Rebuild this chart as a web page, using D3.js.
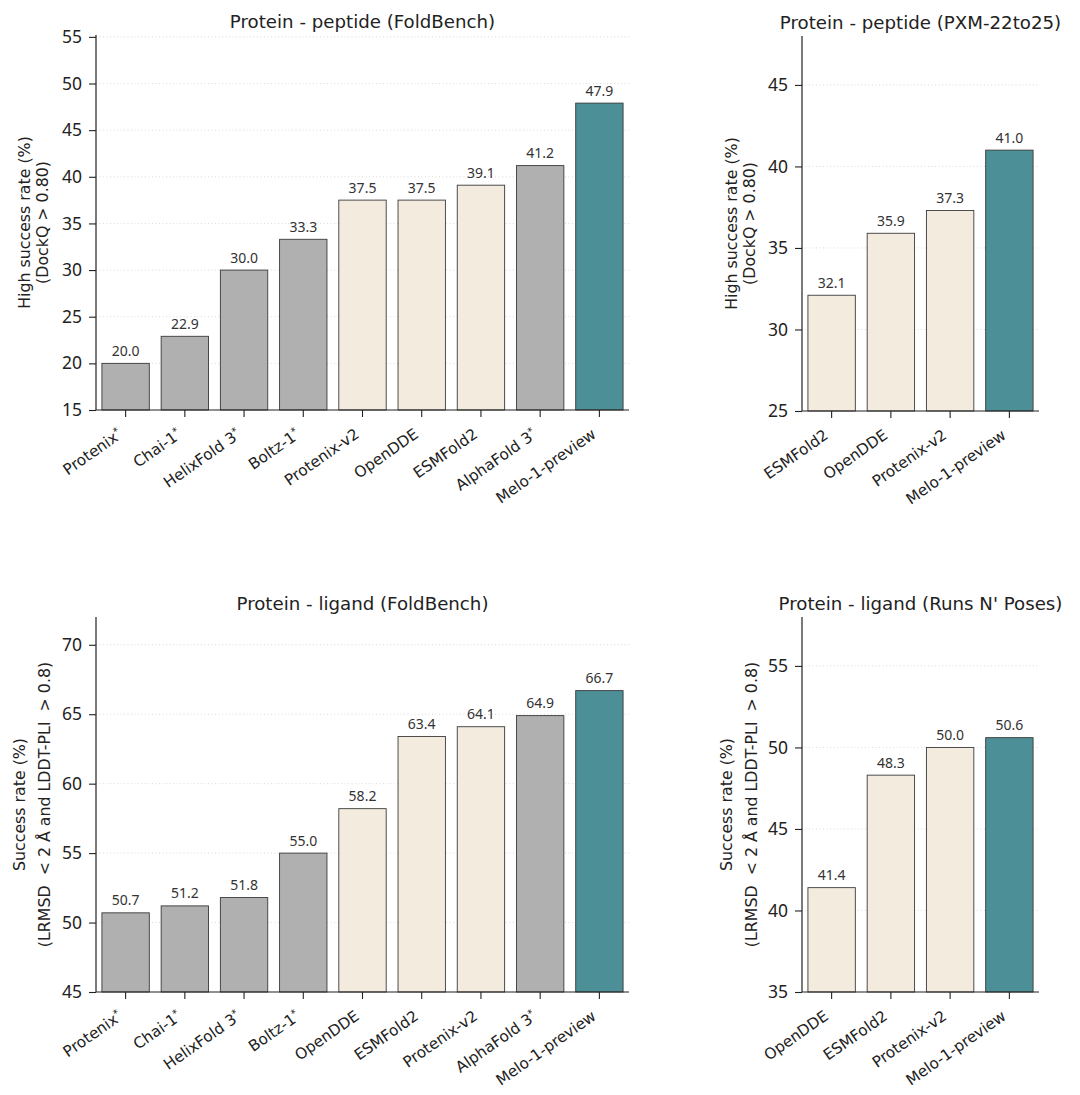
<!DOCTYPE html>
<html><head><meta charset="utf-8">
<script src="https://cdn.jsdelivr.net/npm/d3@7"></script>
<style>
body{margin:0;background:#fff;}
svg{display:block;font-family:"DejaVu Sans",sans-serif;}
.num{font-family:"Noto Sans","DejaVu Sans",sans-serif;}
</style></head>
<body><svg id="c" width="1080" height="1095"></svg>
<script>
// ---- data ----
const fbPeptideModels = ["Protenix*","Chai-1*","HelixFold 3*","Boltz-1*","Protenix-v2","OpenDDE","ESMFold2","AlphaFold 3*","Melo-1-preview"];
const fbPeptideValues = [20.0,22.9,30.0,33.3,37.5,37.5,39.1,41.2,47.9];
const fbPeptideGroups = ["base","base","base","base","open","open","open","base","melo"];

const pxmModels = ["ESMFold2","OpenDDE","Protenix-v2","Melo-1-preview"];
const pxmValues = [32.1,35.9,37.3,41.0];
const pxmGroups = ["open","open","open","melo"];

const fbLigandModels = ["Protenix*","Chai-1*","HelixFold 3*","Boltz-1*","OpenDDE","ESMFold2","Protenix-v2","AlphaFold 3*","Melo-1-preview"];
const fbLigandValues = [50.7,51.2,51.8,55.0,58.2,63.4,64.1,64.9,66.7];
const fbLigandGroups = ["base","base","base","base","open","open","open","base","melo"];

const rnpModels = ["OpenDDE","ESMFold2","Protenix-v2","Melo-1-preview"];
const rnpValues = [41.4,48.3,50.0,50.6];
const rnpGroups = ["open","open","open","melo"];

const ticksFbPeptide = [15,20,25,30,35,40,45,50,55];
const ticksPxm = [25,30,35,40,45];
const ticksFbLigand = [45,50,55,60,65,70];
const ticksRnp = [35,40,45,50,55];

const colors = {base:"#b0b0b0", open:"#f3ecde", melo:"#4d8f96"};

const panels = [
  {title:"Protein - peptide (FoldBench)", models:fbPeptideModels, values:fbPeptideValues, groups:fbPeptideGroups,
   ticks:ticksFbPeptide, domain:[15,55.2], x0:96, x1:629, yT:35, yB:410,
   ylab:["High success rate (%)","(DockQ > 0.80)"], ylx:[25,43]},
  {title:"Protein - peptide (PXM-22to25)", models:pxmModels, values:pxmValues, groups:pxmGroups,
   ticks:ticksPxm, domain:[25,48], x0:802, x1:1039, yT:36, yB:411,
   ylab:["High success rate (%)","(DockQ > 0.80)"], ylx:[732,750]},
  {title:"Protein - ligand (FoldBench)", models:fbLigandModels, values:fbLigandValues, groups:fbLigandGroups,
   ticks:ticksFbLigand, domain:[45,72], x0:96, x1:629, yT:617, yB:992,
   ylab:["Success rate (%)","(LRMSD  < 2 Å and LDDT-PLI  > 0.8)"], ylx:[20,45]},
  {title:"Protein - ligand (Runs N' Poses)", models:rnpModels, values:rnpValues, groups:rnpGroups,
   ticks:ticksRnp, domain:[35,58], x0:802, x1:1039, yT:617, yB:992,
   ylab:["Success rate (%)","(LRMSD  < 2 Å and LDDT-PLI  > 0.8)"], ylx:[727,752]}
];

const svg = d3.select("#c");
const ROT = -35;
const TICK = 7;

panels.forEach(p => {
  const g = svg.append("g");
  const x = d3.scaleBand().domain(p.models).range([p.x0, p.x1]).paddingInner(0.2).paddingOuter(0.1);
  const y = d3.scaleLinear().domain(p.domain).range([p.yB, p.yT]);

  // grid
  g.selectAll("line.grid").data(p.ticks.filter(t => t !== p.domain[0])).join("line")
    .attr("x1", p.x0).attr("x2", p.x1)
    .attr("y1", d => y(d)).attr("y2", d => y(d))
    .attr("stroke", "#d0d0d0").attr("stroke-width", 0.8).attr("stroke-dasharray", "1,2.5");

  // bars
  const data = p.models.map((m, i) => ({m, v: p.values[i], grp: p.groups[i]}));
  g.selectAll("rect").data(data).join("rect")
    .attr("x", d => x(d.m)).attr("width", x.bandwidth())
    .attr("y", d => y(d.v)).attr("height", d => y(p.domain[0]) - y(d.v))
    .attr("fill", d => colors[d.grp]).attr("stroke", "#3a3a3a").attr("stroke-width", 0.9);

  // value labels
  g.selectAll("text.val").data(data).join("text").attr("class", "num")
    .attr("x", d => x(d.m) + x.bandwidth()/2).attr("y", d => y(d.v) - 7.5)
    .attr("text-anchor", "middle").attr("font-size", 14).attr("fill", "#333")
    .text(d => d.v.toFixed(1));

  // y axis
  const ya = g.append("g").attr("transform", `translate(${p.x0},0)`)
    .call(d3.axisLeft(y).tickValues(p.ticks).tickSize(TICK).tickPadding(7).tickFormat(d3.format("d")));
  ya.select(".domain").attr("d", `M0,${p.yT}V${p.yB}`).attr("stroke", "#222").attr("stroke-width", 1.2);
  ya.selectAll(".tick line").attr("stroke", "#222").attr("stroke-width", 1.1);
  ya.selectAll(".tick text").attr("class", "num").attr("font-size", 17.5).attr("fill", "#222").attr("font-family", null);

  // x axis
  const xa = g.append("g").attr("transform", `translate(0,${p.yB})`)
    .call(d3.axisBottom(x).tickSize(TICK).tickSizeOuter(0).tickFormat(""));
  xa.select(".domain").attr("d", `M${p.x0},0H${p.x1}`).attr("stroke", "#222").attr("stroke-width", 1.2);
  xa.selectAll(".tick line").attr("stroke", "#222").attr("stroke-width", 1.1);
  xa.selectAll(".tick text").remove();

  // rotated x labels, aligned like matplotlib (bbox right at tick, bbox top below tick)
  const svgBB = svg.node().getBoundingClientRect();
  p.models.forEach(m => {
    const cx = x(m) + x.bandwidth()/2;
    const star = m.endsWith("*");
    const base = star ? m.slice(0, -1) : m;
    const t = g.append("text").attr("font-size", 15.3).attr("fill", "#222")
      .attr("text-anchor", "end").attr("transform", `rotate(${ROT})`);
    t.append("tspan").text(base);
    if (star) t.append("tspan").attr("font-size", 10).attr("dy", "-0.55em").text("*");
    const bb = t.node().getBoundingClientRect();
    const right = bb.right - svgBB.left, top = bb.top - svgBB.top;
    const tx = cx - right, ty = (p.yB + TICK + 8) - top;
    t.attr("transform", `translate(${tx},${ty}) rotate(${ROT})`);
  });

  // title
  g.append("text").attr("x", (p.x0 + p.x1)/2).attr("y", p.yT - 7.5)
    .attr("text-anchor", "middle").attr("font-size", 18.2).attr("fill", "#222")
    .text(p.title);

  // y label
  const cy = (p.yT + p.yB)/2;
  p.ylab.forEach((t, i) => {
    g.append("text").attr("transform", `translate(${p.ylx[i]},${cy}) rotate(-90)`)
      .attr("text-anchor", "middle").attr("dominant-baseline", "middle")
      .attr("font-size", 15.8).attr("fill", "#222").style("white-space", "pre")
      .text(t);
  });
});
</script></body></html>
